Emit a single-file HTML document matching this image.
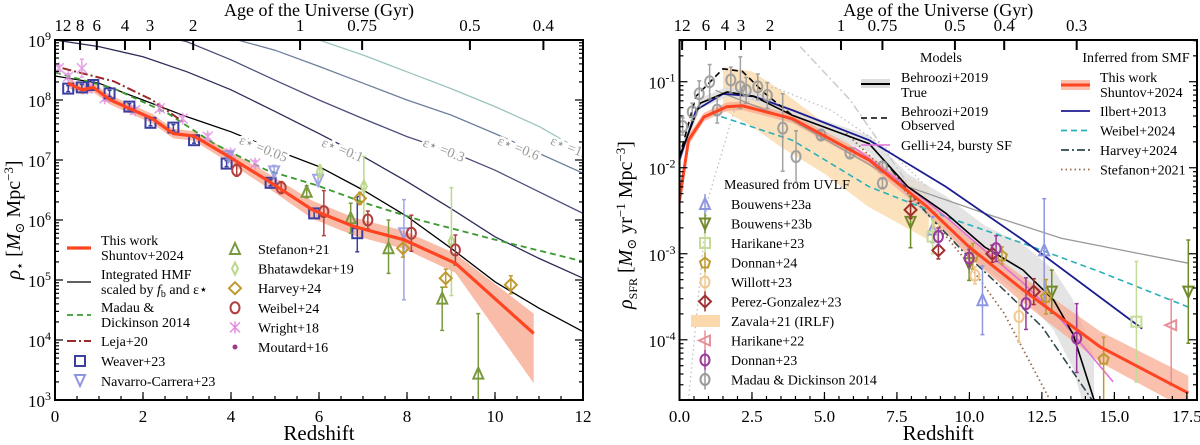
<!DOCTYPE html>
<html><head><meta charset="utf-8">
<style>
html,body{margin:0;padding:0;background:#fff;}
svg{display:block;font-family:"Liberation Serif","DejaVu Serif",serif;}
</style></head>
<body>
<svg id="fig" width="1200" height="445" viewBox="0 0 1200 445" xmlns="http://www.w3.org/2000/svg">
<g id="L"></g>
<g id="R"></g>
</svg>
<script>
// ---------- LEFT PANEL DATA ----------
const thisWorkZ = [0.30,0.61,0.87,1.26,1.69,2.21,2.69,3.16,3.94,4.81,5.85,6.80,7.93,9.10,10.88];
const thisWorkRho = [8.28,8.17,8.21,8.00,7.86,7.69,7.44,7.40,7.06,6.67,6.17,5.89,5.67,5.28,4.11];
const thisWorkHi = [0.08,0.08,0.08,0.08,0.08,0.08,0.08,0.08,0.1,0.12,0.15,0.15,0.15,0.16,0.33];
const thisWorkLo = [0.08,0.08,0.08,0.08,0.08,0.08,0.08,0.08,0.1,0.12,0.15,0.15,0.15,0.16,0.83];
const hmfZ = [0,1,2,3,4,5,6,7,8,9,10,11,12];
const hmfEps005 = [8.40,8.28,8.00,7.72,7.47,7.17,6.89,6.50,6.06,5.53,4.97,4.53,4.14];
const hmfEps01 = [9.00,8.89,8.72,8.47,8.17,7.81,7.44,7.06,6.64,6.19,5.72,5.36,5.03];
const hmfEps03 = [null,null,9.14,8.97,8.67,8.33,8.00,7.69,7.39,7.14,6.83,6.47,6.11];
const hmfEps06 = [null,null,null,9.22,9.03,8.83,8.56,8.28,8.00,7.75,7.44,7.11,6.78];
const hmfEps10 = [null,null,null,null,9.39,9.22,9.00,8.75,8.47,8.19,7.89,7.56,7.14];
const madauZ = [0,1.34,2.56,3.60,4.81,5.94,7.06,8.28,10.01,12];
const madauRho = [8.46,8.19,7.78,7.28,6.83,6.58,6.28,6.00,5.67,5.31];
const lejaZ = [0.17,1.34,2.21,2.90];
const lejaRho = [8.53,8.31,8.00,7.64];
// markers: [z, log rho, err hi, err lo]
const weaver = [[0.30,8.19,0.05,0.05],[0.61,8.21,0.05,0.05],[0.87,8.25,0.05,0.05],[1.24,8.11,0.05,0.05],[1.69,7.89,0.05,0.05],[2.17,7.62,0.05,0.05],[2.69,7.54,0.05,0.05],[3.16,7.33,0.05,0.05],[3.90,6.94,0.05,0.05],[4.90,6.62,0.05,0.05],[5.89,6.11,0.08,0.08],[6.87,5.78,0.61,0.31]];
const navarro = [[3.94,7.06,0.05,0.05],[4.98,6.81,0.1,0.1],[5.98,6.67,0.1,0.1],[7.93,5.78,0.56,1.11]];
const stefanon21 = [[5.72,6.47,0.1,0.1],[6.72,6.03,0.25,0.25],[7.58,5.53,0.47,0.42],[8.80,4.69,0.19,0.53],[9.62,3.44,1.0,0.6]];
const bhatawdekar = [[6.02,6.81,0.1,0.1],[7.02,6.56,0.5,0.7],[9.01,5.64,0.9,0.9]];
const harvey24 = [[6.93,6.36,0.1,0.1],[7.91,5.53,0.15,0.15],[8.88,5.03,0.15,0.15],[10.36,4.92,0.15,0.15]];
const weibel24 = [[4.13,6.83,0.1,0.1],[5.14,6.54,0.1,0.1],[6.11,6.14,0.35,0.4],[7.11,6.00,0.15,0.15],[8.10,5.78,0.3,0.3],[9.10,5.50,0.25,0.25]];
const wright18 = [[0.09,8.53,0.05,0.05],[0.30,8.39,0.05,0.05],[0.61,8.53,0.15,0.15],[0.74,8.19,0.05,0.05],[1.13,8.03,0.05,0.05],[1.82,7.83,0.05,0.05],[2.38,7.86,0.05,0.05],[2.90,7.69,0.05,0.05],[3.47,7.39,0.05,0.05],[3.99,7.11,0.05,0.05],[4.55,6.94,0.05,0.05]];
const ageTicks = ["12","8","6","4","3","2","1","0.75","0.5","0.4"];
const ageTickZ = [0.18,0.57,0.95,1.59,2.16,3.14,5.57,6.98,9.43,11.1];

// ---------- RIGHT PANEL DATA ----------
const sfrZ = [0,0.31,0.84,1.63,2.17,3.89,6.54,8.53,9.99,11.85,14.5,17.55];
const sfrThisWork = [-2.38,-1.68,-1.41,-1.29,-1.28,-1.43,-1.91,-2.45,-2.92,-3.42,-4.08,-4.62];
const sfrBand = [0.12,0.06,0.05,0.05,0.05,0.05,0.06,0.08,0.12,0.15,0.18,0.2];
const ilbertZ = [0,0.57,1.50,2.56,3.89,6.54,9.19,11.85,15.96];
const ilbertV = [-1.91,-1.33,-1.14,-1.17,-1.33,-1.68,-2.22,-2.84,-3.87];
const behTrueZ = [0,0.71,1.64,2.56,3.89,6.54,7.87,9.19,10.52,11.85,12.91,13.57,14.30];
const behTrueV = [-1.87,-1.25,-1.12,-1.17,-1.39,-1.72,-2.22,-2.53,-2.92,-3.19,-3.54,-3.93,-4.70];
const behBand = [0.08,0.06,0.06,0.06,0.06,0.1,0.15,0.2,0.25,0.3,0.35,0.4,0.5];
const behObsZ = [0,0.57,1.50,2.17,2.96,3.89];
const behObsV = [-1.87,-1.17,-0.85,-0.88,-1.14,-1.39];
const gelliZ = [6.01,7.87,9.19,10.52,11.85,13.17,14.96];
const gelliV = [-1.76,-2.22,-2.57,-2.96,-3.34,-3.77,-4.49];
const weibelLineZ = [1.11,3.89,6.54,9.19,11.85,14.50,17.55];
const weibelLineV = [-1.37,-1.68,-2.22,-2.57,-2.88,-3.21,-3.62];
const harveyLineZ = [6.94,8.53,9.86,11.19,12.51,14.23];
const harveyLineV = [-1.87,-2.53,-3.00,-3.42,-3.85,-4.70];
const stefLineZ = [5.75,7.21,8.53,9.86,11.19,12.78];
const stefLineV = [-1.60,-2.07,-2.53,-3.07,-3.69,-4.70];
const greyLineZ = [1.24,3.89,7.87,10.52,13.17,17.55];
const greyLineV = [-1.10,-1.45,-2.22,-2.53,-2.82,-3.11];
const greyDashZ = [4.16,5.88,7.87];
const greyDashV = [-0.59,-1.21,-2.18];
const greyDotZ = [0.31,0.97,1.90,3.23,5.22,7.21,8.53];
const greyDotV = [-4.70,-2.38,-1.33,-1.06,-1.33,-1.79,-2.22];
const zavalaZ = [1.5,2.5,3.5,5,6.5,8.6];
const zavalaHi = [-0.83,-0.88,-1.10,-1.48,-1.91,-2.22];
const zavalaLo = [-1.33,-1.52,-1.76,-2.07,-2.45,-2.84];
const madauPts = [[0.11,-1.52,0.1,0.1],[0.44,-1.35,0.1,0.1],[0.68,-1.14,0.15,0.15],[1.04,-1.00,0.2,0.2],[1.30,-1.33,0.15,0.15],[1.77,-0.98,0.15,0.15],[2.10,-1.06,0.35,0.25],[2.30,-1.10,0.15,0.15],[2.70,-1.06,0.15,0.15],[3.03,-1.16,0.15,0.15],[3.56,-1.54,0.4,0.5],[4.02,-1.87,0.3,0.3],[4.88,-1.62,0.05,0.05],[5.88,-1.83,0.05,0.05],[7.00,-1.99,0.05,0.05],[7.00,-2.18,0.05,0.05]];
const bouwensA = [[8.73,-2.72,0.15,0.15],[10.45,-3.54,0.4,0.4],[12.58,-2.96,0.6,0.6]];
const bouwensB = [[7.97,-2.63,0.3,0.3],[9.99,-3.11,0.2,0.2],[12.84,-3.44,0.25,0.25],[17.55,-3.44,0.6,0.6]];
const harikane23 = [[8.73,-2.80,0.2,0.2],[15.76,-3.79,0.7,0.7]];
const donnan24 = [[10.12,-3.03,0.15,0.15],[11.12,-3.02,0.1,0.1],[12.64,-3.50,0.2,0.2],[14.63,-4.22,0.25,0.6]];
const willott = [[8.93,-2.65,0.1,0.1],[10.19,-3.25,0.1,0.1],[11.71,-3.73,0.4,0.3]];
const perez = [[7.97,-2.49,0.1,0.1],[8.93,-2.96,0.1,0.1],[10.79,-3.00,0.1,0.1],[12.22,-3.44,0.15,0.15]];
const harikane22 = [[16.96,-3.83,0.3,0.7]];
const donnan23 = [[8.93,-2.80,0.1,0.1],[9.99,-3.05,0.1,0.1],[10.92,-2.94,0.15,0.15],[11.95,-3.58,0.3,0.3],[13.70,-3.98,0.4,0.4]];
const ageTicksR = ["12","6","4","3","2","1","0.75","0.5","0.4","0.3"];
const ageTickZR = [0.09,0.91,1.57,2.12,3.12,5.57,7.0,9.5,11.2,13.7];

// ---------- helpers ----------
const NS="http://www.w3.org/2000/svg";
function el(parent,tag,attrs,text){const e=document.createElementNS(NS,tag);for(const k in attrs)e.setAttribute(k,attrs[k]);if(text!==undefined)e.textContent=text;parent.appendChild(e);return e;}
function makeAxes(x0,x1,y0,y1,zmin,zmax,lmin,lmax){
  return {x:z=>x0+(z-zmin)/(zmax-zmin)*(x1-x0), y:v=>y1-(v-lmin)/(lmax-lmin)*(y1-y0), x0,x1,y0,y1};
}
function linePath(ax,zs,vs){let d="",m=true;for(let i=0;i<zs.length;i++){if(vs[i]===null||vs[i]===undefined){m=true;continue;}d+=(m?"M":"L")+ax.x(zs[i]).toFixed(1)+","+ax.y(vs[i]).toFixed(1);m=false;}return d;}
function bandPath(ax,zs,hi,lo){let d="";for(let i=0;i<zs.length;i++)d+=(i?"L":"M")+ax.x(zs[i]).toFixed(1)+","+ax.y(hi[i]).toFixed(1);for(let i=zs.length-1;i>=0;i--)d+="L"+ax.x(zs[i]).toFixed(1)+","+ax.y(lo[i]).toFixed(1);return d+"Z";}
function marker(g,shape,cx,cy,col,s){
  s=s||5;let e;
  const a={fill:"none",stroke:col,"stroke-width":2};
  if(shape==="sq"){e=el(g,"rect",Object.assign({x:cx-s,y:cy-s,width:2*s,height:2*s},a));}
  else if(shape==="tu"){e=el(g,"polygon",Object.assign({points:`${cx},${cy-s-1} ${cx-s},${cy+s} ${cx+s},${cy+s}`},a));}
  else if(shape==="td"){e=el(g,"polygon",Object.assign({points:`${cx},${cy+s+1} ${cx-s},${cy-s} ${cx+s},${cy-s}`},a));}
  else if(shape==="tl"){e=el(g,"polygon",Object.assign({points:`${cx-s-1},${cy} ${cx+s},${cy-s} ${cx+s},${cy+s}`},a));}
  else if(shape==="di"){e=el(g,"polygon",Object.assign({points:`${cx},${cy-s-1} ${cx+s+1},${cy} ${cx},${cy+s+1} ${cx-s-1},${cy}`},a));}
  else if(shape==="td2"){e=el(g,"polygon",Object.assign({points:`${cx},${cy-s-1} ${cx+s-2},${cy} ${cx},${cy+s+1} ${cx-s+2},${cy}`},a));}
  else if(shape==="ci"){e=el(g,"ellipse",Object.assign({cx,cy,rx:s-0.5,ry:s+0.5},a));}
  else if(shape==="pe"){e=el(g,"polygon",Object.assign({points:`${cx},${cy-s} ${cx+s},${cy-1} ${cx+s*0.6},${cy+s} ${cx-s*0.6},${cy+s} ${cx-s},${cy-1}`},a));}
  else if(shape==="st"){e=el(g,"path",{d:`M${cx-s},${cy-s}L${cx+s},${cy+s}M${cx-s},${cy+s}L${cx+s},${cy-s}M${cx},${cy-s-1}L${cx},${cy+s+1}`,stroke:col,"stroke-width":1.5,fill:"none"});}
  else {e=el(g,"circle",{cx,cy,r:2.5,fill:col});}
  return e;
}
function series(g,ax,pts,shape,col,name,op){
  const sg=el(g,"g",{opacity:op||1});
  
  
  pts.forEach(p=>{
    const cx=ax.x(p[0]),cy=ax.y(p[1]);
    const y1=Math.max(ax.y0,ax.y(p[1]+p[2])),y2=Math.min(ax.y1,ax.y(p[1]-p[3]));
    el(sg,"line",{x1:cx,x2:cx,y1:y1,y2:y2,stroke:col,"stroke-width":1.5});
    el(sg,"line",{x1:cx-2,x2:cx+2,y1:y1,y2:y1,stroke:col,"stroke-width":1.5});
    el(sg,"line",{x1:cx-2,x2:cx+2,y1:y2,y2:y2,stroke:col,"stroke-width":1.5});
    const m=marker(sg,shape,cx,cy,col);
    
    
  });
}
function drawLine(g,ax,zs,vs,col,w,dash,name,op){
  const p=el(g,"path",{d:linePath(ax,zs,vs),stroke:col,"stroke-width":w,fill:"none","stroke-dasharray":dash||"none",opacity:op||1});
  
  
  return p;
}
function frame(g,ax,xMajor,xMinorStep,zmin,zmax,xfmt,lmin,lmax,ageLabels,ageZ){
  const tk={stroke:"#000","stroke-width":1.2};
  for(let z=zmin;z<=zmax+1e-6;z+=xMinorStep){const X=ax.x(z);el(g,"line",Object.assign({x1:X,x2:X,y1:ax.y1,y2:ax.y1-4},tk));}
  xMajor.forEach(z=>{const X=ax.x(z);el(g,"line",Object.assign({x1:X,x2:X,y1:ax.y1,y2:ax.y1-8},tk));
    const t=el(g,"text",{x:X,y:ax.y1+22,"text-anchor":"middle","font-size":17},xfmt(z));
    
    });
  for(let d=Math.floor(lmin);d<=Math.ceil(lmax);d++){
    for(let k=1;k<10;k++){const v=d+Math.log10(k);if(v<lmin-1e-6||v>lmax+1e-6)continue;const Y=ax.y(v);const L=k===1?8:4;
      el(g,"line",Object.assign({x1:ax.x0,x2:ax.x0+L,y1:Y,y2:Y},tk));el(g,"line",Object.assign({x1:ax.x1,x2:ax.x1-L,y1:Y,y2:Y},tk));
      if(k===1){const t=el(g,"text",{x:ax.x0-4,y:Y+7,"text-anchor":"end","font-size":17});
        el(t,"tspan",{},"10");el(t,"tspan",{dy:-7,"font-size":12},String(d));}}
  }
  ageZ.forEach((z,i)=>{const X=ax.x(z);el(g,"line",{x1:X,x2:X,y1:ax.y0,y2:ax.y0+10,stroke:"#000","stroke-width":2});
    const t=el(g,"text",{x:X,y:ax.y0-9,"text-anchor":"middle","font-size":17},ageLabels[i]);
    });
  el(g,"rect",{x:ax.x0,y:ax.y0,width:ax.x1-ax.x0,height:ax.y1-ax.y0,fill:"none",stroke:"#000","stroke-width":2});
  const xt=el(g,"text",{x:(ax.x0+ax.x1)/2,y:440,"text-anchor":"middle","font-size":21},"Redshift");
  
  const at=el(g,"text",{x:(ax.x0+ax.x1)/2,y:16,"text-anchor":"middle","font-size":18},"Age of the Universe (Gyr)");
  
}
function txt(g,x,y,s,name,size){const t=el(g,"text",{x,y,"font-size":size||14},s);return t;}

// ---------- LEFT ----------
(function(){
  const g=document.getElementById("L");
  const ax=makeAxes(55,583,40,400,0,12,3,9);
  const defs=el(g,"defs",{});const cp=el(defs,"clipPath",{id:"clipL"});el(cp,"rect",{x:55,y:40,width:528,height:360});
  const pg=el(g,"g",{"clip-path":"url(#clipL)"});
  drawLine(pg,ax,hmfZ,hmfEps10,"#9cc4c0",1.3,null,"hmf-eps-1.0");
  drawLine(pg,ax,hmfZ,hmfEps06,"#6d7f9c",1.3,null,"hmf-eps-0.6");
  drawLine(pg,ax,hmfZ,hmfEps03,"#4c4f7a",1.3,null,"hmf-eps-0.3");
  drawLine(pg,ax,hmfZ,hmfEps01,"#2c2c58",1.3,null,"hmf-eps-0.1");
  drawLine(pg,ax,hmfZ,hmfEps005,"#000",1.3,null,"hmf-eps-0.05");
  [["ε⋆ =0.05",4.7,7.12,"eps-label-0.05"],["ε⋆ =0.1",6.5,7.1,"eps-label-0.1"],["ε⋆ =0.3",8.8,7.1,"eps-label-0.3"],["ε⋆ =0.6",10.5,7.13,"eps-label-0.6"],["ε⋆ =1.0",11.7,7.13,"eps-label-1.0"]].forEach(l=>{
    const t=el(pg,"text",{x:ax.x(l[1]),y:ax.y(l[2]),"font-size":14,fill:"#999","text-anchor":"middle",stroke:"#fff","stroke-width":5,"paint-order":"stroke",transform:`rotate(22 ${ax.x(l[1])} ${ax.y(l[2])})`},l[0]);
    });
  const b=el(pg,"path",{d:bandPath(ax,thisWorkZ,thisWorkRho.map((v,i)=>v+thisWorkHi[i]),thisWorkRho.map((v,i)=>v-thisWorkLo[i])),fill:"#f7a68c",opacity:0.75});
  
  drawLine(pg,ax,madauZ,madauRho,"#3a9a2e",1.8,"6,4","madau-dickinson-line");
  drawLine(pg,ax,lejaZ,lejaRho,"#9b2a2a",2,"9,3,2,3","leja-line");
  series(pg,ax,wright18,"st","#e08ee0","wright18",0.8);
  series(pg,ax,weaver,"sq","#3a3fa0","weaver23");
  series(pg,ax,navarro,"td","#8f96e0","navarro-carrera23",0.85);
  series(pg,ax,stefanon21,"tu","#7a9a40","stefanon21");
  series(pg,ax,bhatawdekar,"td2","#bcd88a","bhatawdekar19");
  series(pg,ax,harvey24,"di","#c09a30","harvey24");
  series(pg,ax,weibel24,"ci","#b04040","weibel24");
  drawLine(pg,ax,thisWorkZ,thisWorkRho,"#ff4422",3.2,null,"this-work-line");
  frame(g,ax,[0,2,4,6,8,10,12],0.5,0,12,z=>String(z),3,9,ageTicks,ageTickZ);
  const yl=el(g,"text",{x:0,y:0,"font-size":20,"text-anchor":"middle",transform:"translate(20,220) rotate(-90)"});
  
  el(yl,"tspan",{"font-style":"italic"},"ρ");el(yl,"tspan",{"font-size":13,dy:4},"⋆");el(yl,"tspan",{dy:-4}," [");el(yl,"tspan",{"font-style":"italic"},"M");el(yl,"tspan",{"font-size":13,dy:4},"⊙");el(yl,"tspan",{dy:-4}," Mpc");el(yl,"tspan",{"font-size":13,dy:-7},"−3");el(yl,"tspan",{dy:7},"]");
  // legend
  const lg=el(g,"g",{});
  el(lg,"line",{x1:67,x2:91,y1:248,y2:248,stroke:"#ff4422","stroke-width":3.2});
  txt(lg,101,245,"This work","legend-this-work");txt(lg,101,260,"Shuntov+2024","legend-this-work-2");
  el(lg,"line",{x1:67,x2:91,y1:282,y2:282,stroke:"#000","stroke-width":1.2});
  txt(lg,101,279,"Integrated HMF","legend-hmf");
  const h2t=txt(lg,101,294,"scaled by ","legend-hmf-2");el(h2t,"tspan",{"font-style":"italic"},"f");el(h2t,"tspan",{"font-size":10,dy:3},"b");el(h2t,"tspan",{dy:-3}," and ε⋆");
  el(lg,"line",{x1:67,x2:91,y1:315,y2:315,stroke:"#3a9a2e","stroke-width":1.8,"stroke-dasharray":"6,4"});
  txt(lg,101,312,"Madau &","legend-madau");txt(lg,101,327,"Dickinson 2014","legend-madau-2");
  el(lg,"line",{x1:67,x2:91,y1:341,y2:341,stroke:"#9b2a2a","stroke-width":2,"stroke-dasharray":"9,3,2,3"});
  txt(lg,101,346,"Leja+20","legend-leja");
  marker(lg,"sq",80,361,"#3a3fa0");txt(lg,101,366,"Weaver+23","legend-weaver");
  marker(lg,"td",80,380,"#8f96e0");txt(lg,101,386,"Navarro-Carrera+23","legend-navarro");
  const col2=[["tu","#7a9a40","Stefanon+21"],["td2","#bcd88a","Bhatawdekar+19"],["di","#c09a30","Harvey+24"],["ci","#b04040","Weibel+24"],["st","#e08ee0","Wright+18"],["dot","#9a3a8a","Moutard+16"]];
  col2.forEach((c,i)=>{const y=249+i*19.6;marker(lg,c[0],235,y,c[1]);txt(lg,258,y+5,c[2],"legend-"+c[2].toLowerCase().replace("+","-"));});
})();

// ---------- RIGHT ----------
(function(){
  const g=document.getElementById("R");
  const ax=makeAxes(679.5,1197,40,400,0,17.85,-4.70,-0.515);
  const defs=el(g,"defs",{});const cp=el(defs,"clipPath",{id:"clipR"});el(cp,"rect",{x:679.5,y:40,width:517.5,height:360});
  const pg=el(g,"g",{"clip-path":"url(#clipR)"});
  const zb=el(pg,"path",{d:bandPath(ax,zavalaZ,zavalaHi,zavalaLo),fill:"#fbd9ad",opacity:0.8});
  
  const bb=el(pg,"path",{d:bandPath(ax,behTrueZ,behTrueV.map((v,i)=>v+behBand[i]),behTrueV.map((v,i)=>v-behBand[i])),fill:"#ddd",opacity:0.8});
  
  const rb=el(pg,"path",{d:bandPath(ax,sfrZ,sfrThisWork.map((v,i)=>v+sfrBand[i]),sfrThisWork.map((v,i)=>v-sfrBand[i])),fill:"#f7a68c",opacity:0.7});
  
  drawLine(pg,ax,greyDotZ,greyDotV,"#bbb",1.2,"1.5,3","grey-dotted-model");
  drawLine(pg,ax,greyDashZ,greyDashV,"#ccc",1.5,"8,3,2,3","grey-dashdot-model");
  drawLine(pg,ax,greyLineZ,greyLineV,"#999",1.3,null,"grey-line");
  drawLine(pg,ax,stefLineZ,stefLineV,"#9a6a4a",1.8,"1.5,3","stefanon21-line");
  drawLine(pg,ax,harveyLineZ,harveyLineV,"#2e4a50",1.6,"8,3,2,3","harvey24-line");
  drawLine(pg,ax,weibelLineZ,weibelLineV,"#2ab0b8",1.6,"6,4","weibel24-line");
  drawLine(pg,ax,ilbertZ,ilbertV,"#1c1c90",1.8,null,"ilbert13-line");
  drawLine(pg,ax,gelliZ,gelliV,"#e070d8",1.6,null,"gelli24-line");
  drawLine(pg,ax,behObsZ,behObsV,"#000",1.6,"6,4","behroozi-observed-line");
  drawLine(pg,ax,behTrueZ,behTrueV,"#000",1.6,null,"behroozi-true-line");
  series(pg,ax,madauPts,"ci","#999","madau14-points",0.9);
  series(pg,ax,bouwensA,"tu","#8f96e0","bouwens23a");
  series(pg,ax,bouwensB,"td","#6f8a2a","bouwens23b");
  series(pg,ax,harikane23,"sq","#c4dc98","harikane23");
  series(pg,ax,donnan24,"pe","#c09a30","donnan24");
  series(pg,ax,willott,"ci","#f0c890","willott23");
  series(pg,ax,perez,"di","#a03030","perez-gonzalez23");
  series(pg,ax,harikane22,"tl","#e8909a","harikane22");
  series(pg,ax,donnan23,"ci","#9a3a9a","donnan23");
  drawLine(pg,ax,sfrZ,sfrThisWork,"#ff4422",3,null,"this-work-sfr-line");
  frame(g,ax,[0,2.5,5,7.5,10,12.5,15,17.5],0.5,0,17.85,z=>z.toFixed(1),-4.70,-0.515,ageTicksR,ageTickZR);
  const yl=el(g,"text",{x:0,y:0,"font-size":20,"text-anchor":"middle",transform:"translate(632,225) rotate(-90)"});
  
  el(yl,"tspan",{"font-style":"italic"},"ρ");el(yl,"tspan",{"font-size":12,dy:5},"SFR");el(yl,"tspan",{dy:-5}," [");el(yl,"tspan",{"font-style":"italic"},"M");el(yl,"tspan",{"font-size":13,dy:4},"⊙");el(yl,"tspan",{dy:-4}," yr");el(yl,"tspan",{"font-size":13,dy:-7},"−1");el(yl,"tspan",{dy:7}," Mpc");el(yl,"tspan",{"font-size":13,dy:-7},"−3");el(yl,"tspan",{dy:7},"]");
  const lg=el(g,"g",{});
  const h1=txt(lg,941,62,"Models","legend-models-title");h1.setAttribute("text-anchor","middle");
  el(lg,"rect",{x:861,y:79,width:29,height:9,fill:"#ddd"});el(lg,"line",{x1:861,x2:890,y1:84,y2:84,stroke:"#000","stroke-width":2});
  txt(lg,901,82,"Behroozi+2019","legend-behroozi-true");txt(lg,901,97,"True","legend-behroozi-true-2");
  el(lg,"line",{x1:861,x2:890,y1:118,y2:118,stroke:"#000","stroke-width":1.6,"stroke-dasharray":"6,4"});
  txt(lg,901,116,"Behroozi+2019","legend-behroozi-obs");txt(lg,901,130,"Observed","legend-behroozi-obs-2");
  el(lg,"line",{x1:861,x2:890,y1:145,y2:145,stroke:"#e070d8","stroke-width":1.6});
  txt(lg,901,150,"Gelli+24, bursty SF","legend-gelli");
  const h2=txt(lg,1136,62,"Inferred from SMF","legend-smf-title");h2.setAttribute("text-anchor","middle");
  el(lg,"rect",{x:1061,y:80,width:29,height:10,fill:"#f7a68c",opacity:0.7});el(lg,"line",{x1:1061,x2:1090,y1:85,y2:85,stroke:"#ff4422","stroke-width":3});
  txt(lg,1100,82,"This work","legend-this-work");txt(lg,1100,97,"Shuntov+2024","legend-this-work-2");
  const r2=[["#1c1c90",null,"Ilbert+2013"],["#2ab0b8","6,4","Weibel+2024"],["#2e4a50","8,3,2,3","Harvey+2024"],["#9a6a4a","1.5,3","Stefanon+2021"]];
  r2.forEach((r,i)=>{const y=111+i*19.5;el(lg,"line",{x1:1061,x2:1090,y1:y,y2:y,stroke:r[0],"stroke-width":1.8,"stroke-dasharray":r[1]||"none"});txt(lg,1100,y+5,r[2],"legend-"+r[2].toLowerCase().replace("+","-"));});
  const h3=txt(lg,787,189,"Measured from UVLF","legend-uvlf-title");h3.setAttribute("text-anchor","middle");
  const r3=[["tu","#8f96e0","Bouwens+23a"],["td","#6f8a2a","Bouwens+23b"],["sq","#c4dc98","Harikane+23"],["pe","#c09a30","Donnan+24"],["ci","#f0c890","Willott+23"],["di","#a03030","Perez-Gonzalez+23"],["band","#fbd9ad","Zavala+21 (IRLF)"],["tl","#e8909a","Harikane+22"],["ci","#9a3a9a","Donnan+23"],["ci","#999","Madau & Dickinson 2014"]];
  r3.forEach((r,i)=>{const y=204+i*19.5;
    if(r[0]==="band")el(lg,"rect",{x:691,y:y-6,width:29,height:12,fill:r[1]});
    else {el(lg,"line",{x1:705,x2:705,y1:y-10,y2:y+10,stroke:r[1],"stroke-width":1.5});marker(lg,r[0],705,y,r[1]);}
    txt(lg,731,y+5,r[2],"legend-"+r[2].toLowerCase().replace(/[^a-z0-9]+/g,"-"));});
})();
</script>
</body></html>
